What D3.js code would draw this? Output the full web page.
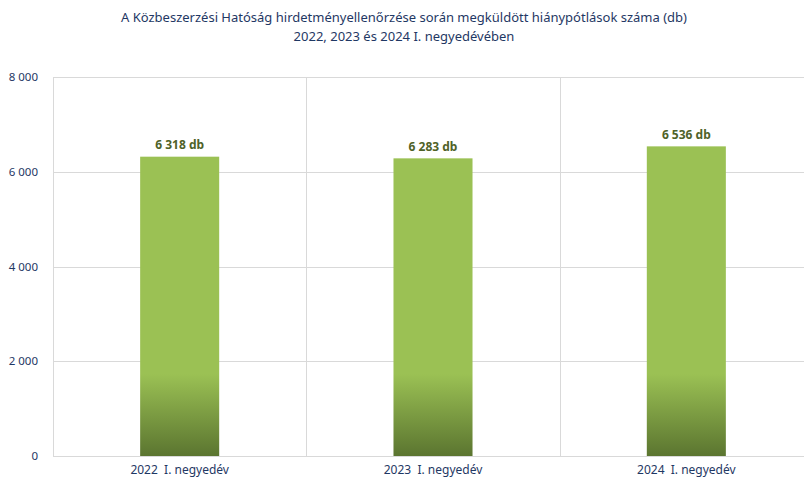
<!DOCTYPE html>
<html>
<head>
<meta charset="utf-8">
<script src="https://cdn.jsdelivr.net/npm/d3@7"></script>
<style>
  body { margin: 0; background: #fff; }
  svg text { font-family: "Noto Sans", "Open Sans", sans-serif; }
</style>
</head>
<body>
<svg id="chart" width="804" height="479"></svg>
<script>
// Data
const categories = ["2022  I. negyedév", "2023  I. negyedév", "2024  I. negyedév"];
const values = [6318, 6283, 6536];
const valueLabels = ["6 318 db", "6 283 db", "6 536 db"];
const yTicks = [0, 2000, 4000, 6000, 8000];
const titleLines = [
  "A Közbeszerzési Hatóság hirdetményellenőrzése során megküldött hiánypótlások száma (db)",
  "2022, 2023 és 2024 I. negyedévében"
];

// Layout
const margin = { top: 77, left: 53, bottom: 23 };
const plotRight = 813;
const height = 479;
const navy = "#1F3864";
const gridColor = "#D9D9D9";

const svg = d3.select("#chart");

// Gradient for bars
const defs = svg.append("defs");
const grad = defs.append("linearGradient")
  .attr("id", "barGrad")
  .attr("gradientUnits", "userSpaceOnUse")
  .attr("x1", 0).attr("x2", 0)
  .attr("y1", 374).attr("y2", 456);
grad.append("stop").attr("offset", "0%").attr("stop-color", "#9BC154");
grad.append("stop").attr("offset", "100%").attr("stop-color", "#5B7530");

// Scales
const x = d3.scaleBand()
  .domain(categories)
  .range([margin.left, plotRight])
  .padding(0);

const y = d3.scaleLinear()
  .domain([0, 8000])
  .range([height - margin.bottom, margin.top]);

const barWidth = x.bandwidth() * 0.312;

// Horizontal grid
svg.append("g")
  .selectAll("line")
  .data(yTicks)
  .join("line")
  .attr("x1", margin.left)
  .attr("x2", plotRight)
  .attr("y1", (d) => Math.round(y(d)) + 0.5)
  .attr("y2", (d) => Math.round(y(d)) + 0.5)
  .attr("stroke", gridColor)
  .attr("stroke-width", 1);

// Vertical grid at category boundaries
const boundaries = categories.map((c) => x(c)).concat([plotRight]);
svg.append("g")
  .selectAll("line")
  .data(boundaries)
  .join("line")
  .attr("x1", (d) => Math.round(d) + 0.5)
  .attr("x2", (d) => Math.round(d) + 0.5)
  .attr("y1", y(8000))
  .attr("y2", y(0))
  .attr("stroke", gridColor)
  .attr("stroke-width", 1);

// Y axis labels
const fmt = (d) => d3.format(",")(d).replace(/,/g, " ");
svg.append("g")
  .selectAll("text")
  .data(yTicks)
  .join("text")
  .attr("x", 38)
  .attr("y", (d) => y(d))
  .attr("dy", "0.35em")
  .attr("text-anchor", "end")
  .attr("font-size", 11.5)
  .attr("fill", navy)
  .text(fmt);

// Bars
svg.append("g")
  .selectAll("rect")
  .data(values)
  .join("rect")
  .attr("x", (d, i) => x(categories[i]) + x.bandwidth() / 2 - barWidth / 2)
  .attr("y", (d) => y(d))
  .attr("width", barWidth)
  .attr("height", (d) => y(0) - y(d))
  .attr("fill", "url(#barGrad)");

// Value labels
svg.append("g")
  .selectAll("text")
  .data(values)
  .join("text")
  .attr("x", (d, i) => x(categories[i]) + x.bandwidth() / 2)
  .attr("y", (d) => y(d) - 12)
  .attr("dy", "0.35em")
  .attr("text-anchor", "middle")
  .attr("font-size", 12)
  .attr("font-weight", "bold")
  .attr("fill", "#4F6228")
  .text((d, i) => valueLabels[i]);

// Category labels
svg.append("g")
  .selectAll("text")
  .data(categories)
  .join("text")
  .attr("x", (d) => x(d) + x.bandwidth() / 2)
  .attr("y", 470)
  .attr("dy", "0.35em")
  .attr("text-anchor", "middle")
  .attr("font-size", 12)
  .attr("fill", navy)
  .style("white-space", "pre")
  .text((d) => d);

// Title
svg.append("g")
  .selectAll("text")
  .data(titleLines)
  .join("text")
  .attr("x", 404)
  .attr("y", (d, i) => 17 + i * 19)
  .attr("dy", "0.35em")
  .attr("text-anchor", "middle")
  .attr("font-size", 13)
  .attr("fill", navy)
  .text((d) => d);
</script>
</body>
</html>
